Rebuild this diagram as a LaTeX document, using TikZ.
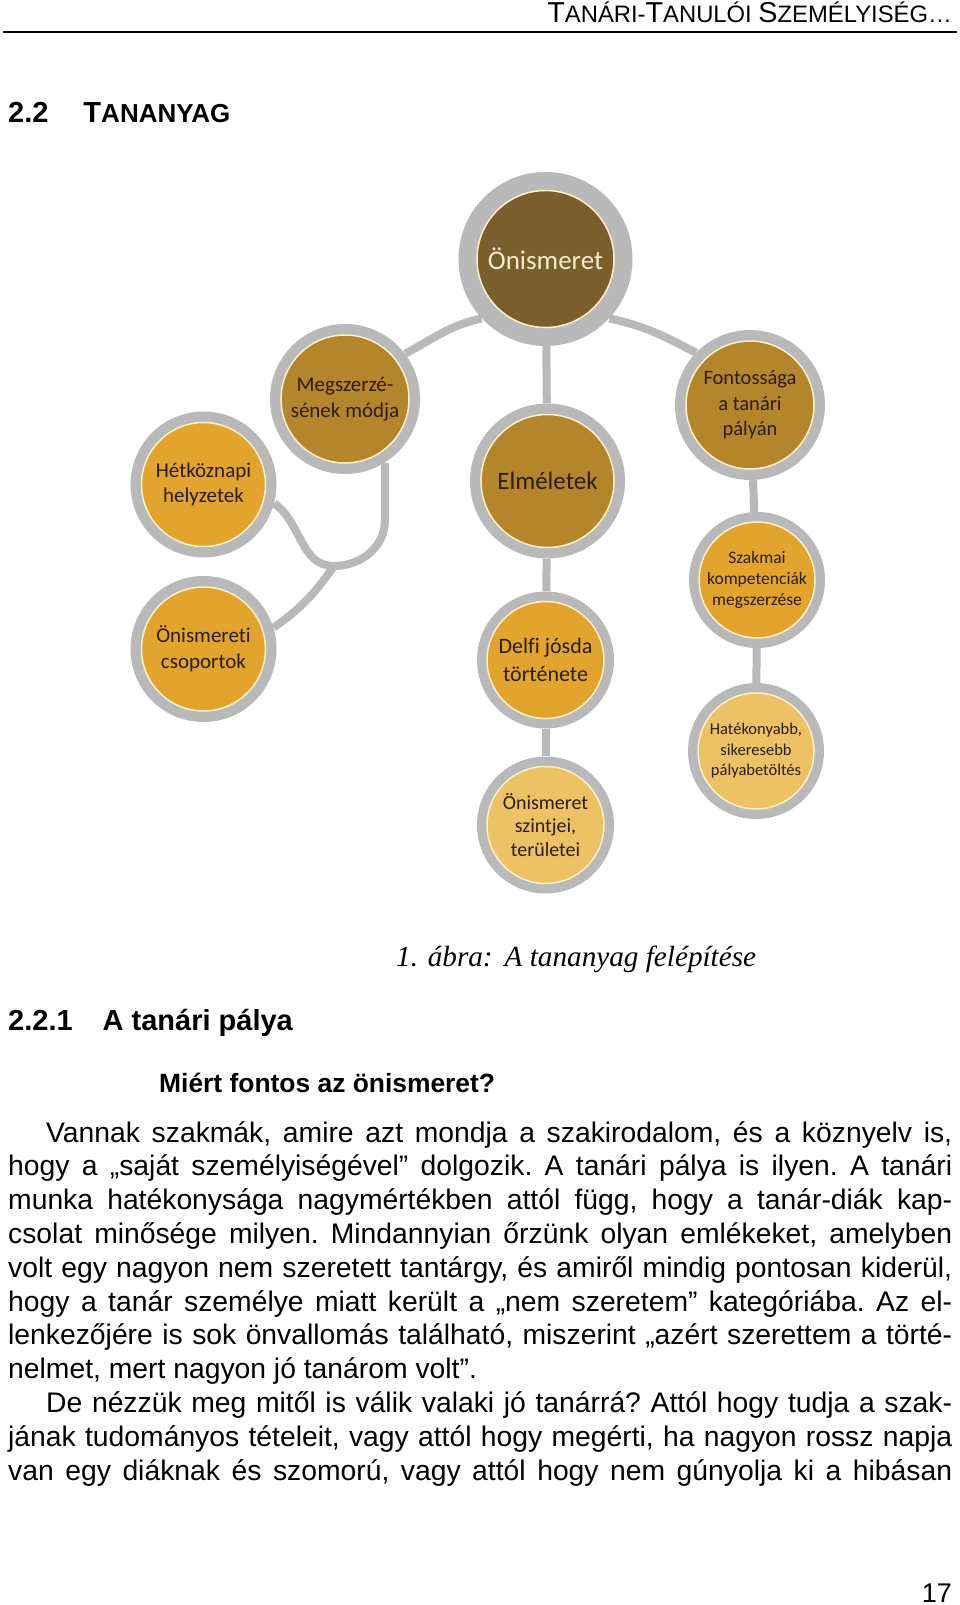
\documentclass[tikz,border=0pt]{standalone}
\usepackage{fontspec}
\setmainfont{Liberation Sans}
\newfontfamily\calibri[Ligatures=NoCommon]{Carlito}
\newfontfamily\serifit{Liberation Serif}
\usepackage{xcolor}
\usetikzlibrary{positioning,backgrounds}

\definecolor{onicol}{HTML}{7A5E2C}
\definecolor{midcol}{HTML}{B5852B}
\definecolor{orangecol}{HTML}{E2A42C}
\definecolor{lightcol}{HTML}{EDC265}
\definecolor{ringgray}{HTML}{B9B9B9}
\definecolor{creamline}{HTML}{FDF1C8}
\definecolor{labeldark}{HTML}{2A1D0B}
\definecolor{creamtext}{HTML}{F6EDCF}

\newcommand\bubblefont[2]{\calibri\fontsize{#1}{#2}\selectfont}
\newcommand\fsz[1]{\fontsize{#1}{#1}\selectfont}

\begin{document}
\begin{tikzpicture}[x=1pt,y=-1pt,
    ring/.style={circle, fill=ringgray, inner sep=0pt},
    core/.style={circle, draw=creamline, line width=1.5pt, inner sep=0pt,
                 align=center, text=labeldark},
    link/.style={draw=ringgray, line width=8pt},
    pagetext/.style={inner sep=0pt, anchor=base west}]
  \useasboundingbox (0,0) rectangle (960,1605);

  % running head
  \node[pagetext, anchor=base east] (runhead) at (952,22.5)
    {\fsz{28.8}T\fsz{23.8}ANÁRI-\fsz{28.8}T\fsz{23.8}ANULÓI
     \fsz{28.8}S\fsz{23.8}ZEMÉLYISÉG…};
  \draw[line width=1.4pt] (3,32) -- (957,32);

  \node[pagetext, font=\bfseries] (sec) at (8,123)
    {\fsz{29}2.2\hspace{35pt}T\fsz{26}ANANYAG};

  % the bubbles
  \node[ring, minimum size=174pt] (oni) at (545.5,259) {};
  \node[core, fill=onicol, minimum size=137pt, text=creamtext,
        font=\bubblefont{27}{30}] at (oni) {Önismeret};

  \node[ring, minimum size=150pt] (megsz) at (345,399) {};
  \node[core, fill=midcol, minimum size=128pt,
        font=\bubblefont{21}{25.6}] at (megsz) {Megszerzé-\\sének módja};

  \node[ring, minimum size=155pt] (elm) at (547.5,481) {};
  \node[core, fill=midcol, minimum size=133pt,
        font=\bubblefont{25}{28}] at (elm) {Elméletek};

  \node[ring, minimum size=150pt] (fontos) at (750,405) {};
  \node[core, fill=midcol, minimum size=128pt,
        font=\bubblefont{20.5}{25.6}] at (fontos) {Fontossága\\a tanári\\pályán};

  \node[ring, minimum size=146pt] (hetk) at (203.5,484.5) {};
  \node[core, fill=orangecol, minimum size=124pt,
        font=\bubblefont{21}{25.6}] at (hetk) {Hétköznapi\\helyzetek};

  \node[ring, minimum size=146pt] (csop) at (203.5,649) {};
  \node[core, fill=orangecol, minimum size=124pt,
        font=\bubblefont{21}{25.6}] at (csop) {Önismereti\\csoportok};

  \node[ring, minimum size=137pt] (delfi) at (545.5,660) {};
  \node[core, fill=orangecol, minimum size=117pt,
        font=\bubblefont{22}{27.6}] at (delfi) {Delfi jósda\\története};

  \node[ring, minimum size=137pt] (szint) at (545.5,825) {};
  \node[core, fill=lightcol, minimum size=117pt,
        font=\bubblefont{20}{23.5}] at (szint) {Önismeret\\szintjei,\\területei};

  \node[ring, minimum size=136pt] (szak) at (757,580) {};
  \node[core, fill=orangecol, minimum size=116pt,
        font=\bubblefont{17.5}{20.8}] at (szak) {Szakmai\\kompetenciák\\megszerzése};

  \node[ring, minimum size=136pt] (hatek) at (756,751) {};
  \node[core, fill=lightcol, minimum size=116pt,
        font=\bubblefont{16.5}{20.5}] at (hatek) {Hatékonyabb,\\sikeresebb\\pályabetöltés};

  % connectors behind the bubbles
  \coordinate (junc) at (334,566);
  \coordinate (drop) at ([yshift=-58pt]megsz.-58);
  \begin{scope}[on background layer]
    \fill[white] (0,0) rectangle (960,1605);
    \draw[link] (oni.223) to[out=192,in=28] (megsz.37);
    \draw[link] (oni.-43) to[out=-12,in=152] (fontos.136);
    \draw[link] (oni) -- (elm);
    \draw[link] (elm) -- (delfi);
    \draw[link] (delfi) -- (szint);
    \draw[link] (fontos) -- (szak);
    \draw[link] (szak) -- (hatek);
    \draw[link] (hetk.-15) to[out=-35,in=180] (junc)
                to[out=0,in=-90] (drop) -- (megsz.-58);
    \draw[link] (junc) to[out=235,in=35] (csop.17);
  \end{scope}

  % caption and text
  \node[pagetext, font=\serifit\itshape\fsz{29.2}] (caption) at (396,966)
    {1. ábra:\hspace{12pt}A tananyag felépítése};

  \node[pagetext, font=\bfseries\fsz{29}] (subsec) at (8,1030)
    {2.2.1\hspace{30pt}A tanári pálya};

  \node[pagetext, font=\bfseries\fsz{26.4}] (question) at (159,1092)
    {Miért fontos az önismeret?};

  \node[pagetext] (body) at (8,1142) {\parbox[t]{944pt}{%
    \fontsize{28.3}{33.8}\selectfont\frenchspacing
    \makebox[944pt][s]{\hspace*{38pt}Vannak szakmák, amire azt mondja a szakirodalom, és a köznyelv is,}\\
    \makebox[944pt][s]{hogy a „saját személyiségével” dolgozik. A tanári pálya is ilyen. A tanári}\\
    \makebox[944pt][s]{munka hatékonysága nagymértékben attól függ, hogy a tanár-diák kap-}\\
    \makebox[944pt][s]{csolat minősége milyen. Mindannyian őrzünk olyan emlékeket, amelyben}\\
    \makebox[944pt][s]{volt egy nagyon nem szeretett tantárgy, és amiről mindig pontosan kiderül,}\\
    \makebox[944pt][s]{hogy a tanár személye miatt került a „nem szeretem” kategóriába. Az el-}\\
    \makebox[944pt][s]{lenkezőjére is sok önvallomás található, miszerint „azért szerettem a törté-}\\
    nelmet, mert nagyon jó tanárom volt”.\\
    \makebox[944pt][s]{\hspace*{38pt}De nézzük meg mitől is válik valaki jó tanárrá? Attól hogy tudja a szak-}\\
    \makebox[944pt][s]{jának tudományos tételeit, vagy attól hogy megérti, ha nagyon rossz napja}\\
    \makebox[944pt][s]{van egy diáknak és szomorú, vagy attól hogy nem gúnyolja ki a hibásan}}};

  \node[pagetext, anchor=base east, font=\fsz{27}] (pagenum) at (952,1602) {17};
\end{tikzpicture}
\end{document}
